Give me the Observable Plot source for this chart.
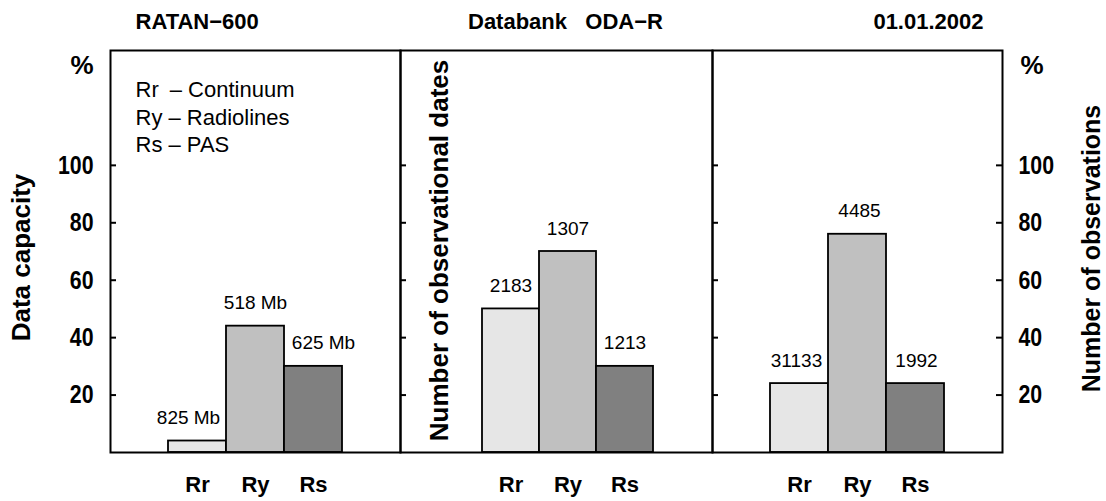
<!DOCTYPE html>
<html><head><meta charset="utf-8">
<script src="https://cdn.jsdelivr.net/npm/d3@7"></script>
<script src="https://cdn.jsdelivr.net/npm/@observablehq/plot@0.6"></script>
<style>
body{margin:0;background:#fff}
#chart{position:relative;width:1106px;height:501px;overflow:hidden;background:#fff}
#chart svg{position:absolute;top:0}
</style></head><body><div id="chart"></div>
<script>
// ---- data ----
const categories = ["Rr", "Ry", "Rs"];
const legendNames = ["Continuum", "Radiolines", "PAS"];
const capacityPct = [4, 44, 30];
const capacityLabels = ["825 Mb", "518 Mb", "625 Mb"];
const datesPct = [50, 70, 30];
const datesLabels = ["2183", "1307", "1213"];
const obsPct = [24, 76, 24];
const obsLabels = ["31133", "4485", "1992"];
const yTicks = [20, 40, 60, 80, 100];
const panelTitles = ["RATAN\u2212600", "Databank\u00a0\u00a0 ODA\u2212R", "01.01.2002"];
const yTitleLeft = "Data capacity";
const yTitleMiddle = "Number of observational dates";
const yTitleRight = "Number of observations";
const unitLabel = "%";
const barColors = ["#e6e6e6", "#c0c0c0", "#808080"];

// ---- layout / style ----
const H = 501, MT = 50, MB = 49;
const TEXT = "'Liberation Sans', Arial, Helvetica, sans-serif";

const legendText = categories.map((c, i) => c + (c === "Rr" ? "\u2002" : " ") + "\u2013 " + legendNames[i]).join("\n");

function rows(values, labels) {
  return categories.map((c, i) => ({cat: c, value: values[i], label: labels[i]}));
}

function panel({width, marginLeft, marginRight, values, labels, labelDx = [0, 0, 0], xScale = {}, marks = []}) {
  const data = rows(values, labels);
  const fw = width - marginLeft - marginRight;
  return Plot.plot({
    width, height: H, marginLeft, marginRight, marginTop: MT, marginBottom: MB,
    style: {background: "transparent", overflow: "visible", fontFamily: TEXT, color: "black"},
    x: {type: "band", domain: categories, paddingInner: 0, paddingOuter: 1, ...xScale},
    y: {domain: [0, 140], axis: null},
    color: {domain: categories, range: barColors},
    marks: [
      Plot.barY(data, {x: "cat", y: "value", fill: "cat", stroke: "black", strokeWidth: 1.8}),
      ...categories.map((c, i) => Plot.text(data, {
        filter: d => d.cat === c, x: "cat", y: "value", text: "label",
        dy: -23, dx: labelDx[i], fontSize: 19, fill: "black"
      })),
      Plot.ruleY(yTicks, {insetRight: fw - 6, strokeWidth: 2}),
      Plot.frame({stroke: "black", strokeWidth: 2}),
      Plot.axisX({anchor: "bottom", tickSize: 0, tickPadding: 24, fontSize: 22, fontWeight: "bold", label: null, fill: "black"}),
      ...marks
    ]
  });
}

const pA = panel({
  width: 400, marginLeft: 110, marginRight: 0,
  values: capacityPct, labels: capacityLabels, labelDx: [-9, 0, 10],
  marks: [
    Plot.axisY({ticks: yTicks, anchor: "left", tickSize: 0, tickPadding: 17, fontSize: 26, fontWeight: "bold", label: null, fill: "black"}),
    Plot.text([unitLabel], {text: d => d, frameAnchor: "top-left", dx: -17, dy: 15, textAnchor: "end", lineAnchor: "middle", fontSize: 26, fontWeight: "bold", ariaLabel: "narrow"}),
    Plot.text([yTitleLeft], {text: d => d, frameAnchor: "left", dx: -89, dy: 6, rotate: -90, textAnchor: "middle", fontSize: 26, fontWeight: "bold"}),
    Plot.text([legendText], {text: d => d, frameAnchor: "top-left", dx: 25, dy: 27, lineAnchor: "top", textAnchor: "start", lineHeight: 1.25, fontSize: 22}),
    Plot.text([panelTitles[0]], {text: d => d, frameAnchor: "top-left", dx: 25, dy: -29, textAnchor: "start", lineAnchor: "middle", fontSize: 22, fontWeight: "bold"})
  ]
});

const pB = panel({
  width: 312, marginLeft: 0, marginRight: 0,
  values: datesPct, labels: datesLabels,
  xScale: {paddingOuter: 1.199, align: 0.584},
  marks: [
    Plot.text([yTitleMiddle], {text: d => d, frameAnchor: "left", dx: 39, dy: -1, rotate: -90, textAnchor: "middle", fontSize: 26, fontWeight: "bold"}),
    Plot.text([panelTitles[1]], {text: d => d, frameAnchor: "top", dx: 9, dy: -29, lineAnchor: "middle", fontSize: 22, fontWeight: "bold"})
  ]
});

const pC = panel({
  width: 394, marginLeft: 0, marginRight: 104,
  values: obsPct, labels: obsLabels, labelDx: [-3, 2, 1],
  marks: [
    Plot.ruleY(yTicks, {insetLeft: 290 - 6, strokeWidth: 2}),
    Plot.axisY({ticks: yTicks, anchor: "right", tickSize: 0, tickPadding: 16, fontSize: 26, fontWeight: "bold", label: null, fill: "black"}),
    Plot.text([unitLabel], {text: d => d, frameAnchor: "top-right", dx: 18, dy: 15, textAnchor: "start", lineAnchor: "middle", fontSize: 26, fontWeight: "bold", ariaLabel: "narrow"}),
    Plot.text([yTitleRight], {text: d => d, frameAnchor: "right", dx: 89, dy: -3, rotate: -90, textAnchor: "middle", fontSize: 25, fontWeight: "bold"}),
    Plot.text([panelTitles[2]], {text: d => d, frameAnchor: "top-right", dx: -19, dy: -29, textAnchor: "end", lineAnchor: "middle", fontSize: 22, fontWeight: "bold"})
  ]
});

// condensed look for the bold tick numbers and "%" (no narrow face installed)
function condense(svg) {
  d3.select(svg).selectAll('g[aria-label="y-axis tick label"] text, g[aria-label="narrow"] text')
    .attr("font-size", 26).attr("font-weight", "bold")
    .each(function () {
      const t = this.getAttribute("transform") || "";
      this.setAttribute("transform", t + " scale(0.82,1)");
    });
}

const chart = document.getElementById("chart");
[[pA, 0], [pB, 400], [pC, 712]].forEach(([svg, left]) => {
  svg.style.left = left + "px";
  condense(svg);
  chart.appendChild(svg);
});
</script>
</body></html>
